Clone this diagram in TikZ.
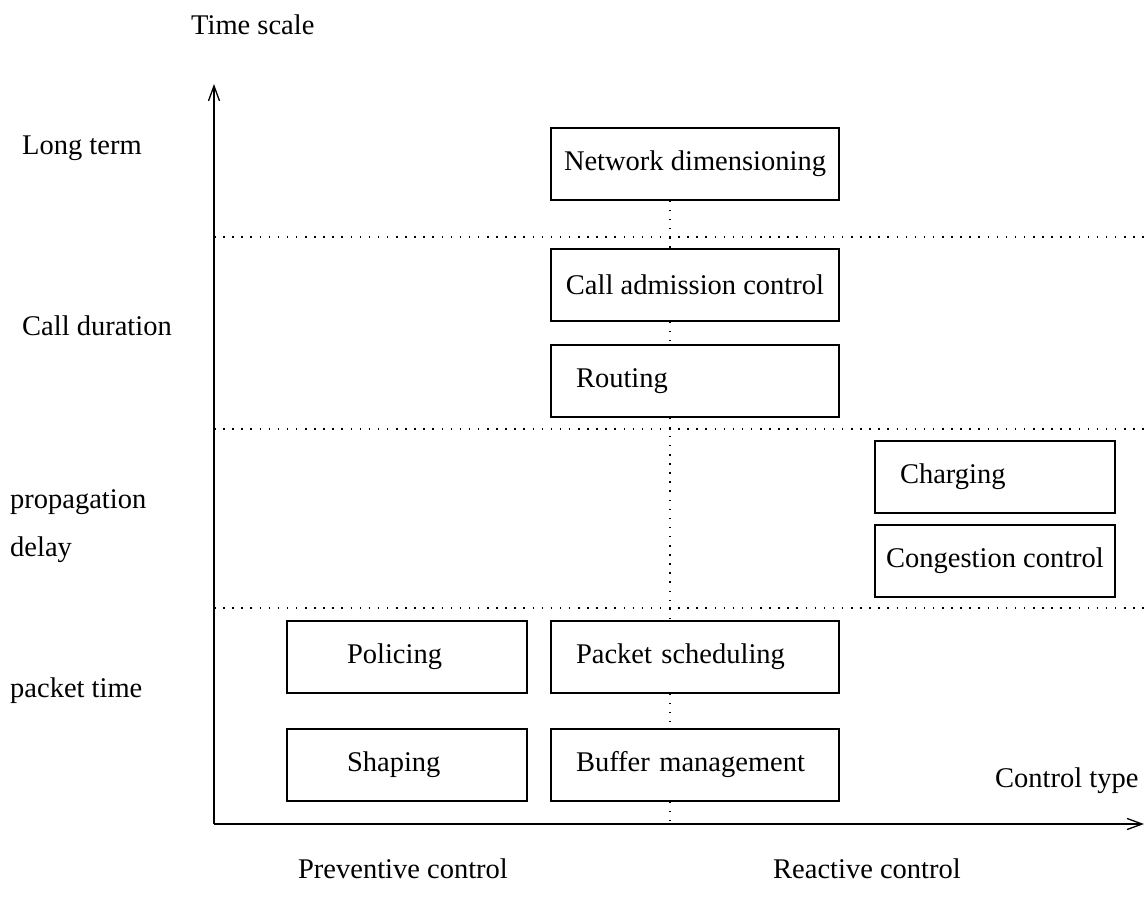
\documentclass[tikz,border=0pt]{standalone}
\usepackage{fontspec}
\setmainfont{Liberation Serif}
\usetikzlibrary{arrows.meta}
\begin{document}
\begin{tikzpicture}[x=1pt,y=-1pt,
  every node/.style={font=\fontsize{28.5}{33}\selectfont},
  lbl/.style={anchor=base west, inner sep=0pt},
  clbl/.style={anchor=base, inner sep=0pt},
  boxc/.style={draw, line width=1.3pt, minimum width=288pt, minimum height=72pt, inner sep=0pt, align=center},
  dotline/.style={line width=1.5pt, dash pattern=on 1.5pt off 7.6pt},
  axis/.style={line width=1.3pt, -{Straight Barb[length=15pt,width=11pt,line width=1.3pt]}}
]
\useasboundingbox (0,0) rectangle (1146,897);

% axes
\coordinate (origin) at (214,824);
\coordinate (ytip) at (214,84);
\coordinate (xtip) at (1144,824);
\coordinate (vx) at (670,0);

% dotted horizontal separators
\coordinate (d1a) at (214,237); \coordinate (d1b) at (1146,237);
\coordinate (d2a) at (214,429); \coordinate (d2b) at (1146,429);
\coordinate (d3a) at (214,608); \coordinate (d3b) at (1146,608);
\draw[dotline] (d1a) -- (d1b);
\draw[dotline] (d2a) -- (d2b);
\draw[dotline] (d3a) -- (d3b);

% boxes (centre column)
\node[boxc] (nd) at (695,164) {Network dimensioning};
\node[boxc] (cac) at (695,285) {Call admission control};
\node[boxc, align=left, text width=238pt] (rt) at (695,381) {Routing};
\node[boxc, align=left, text width=238pt] (ps) at (695,657) {Packet scheduling};
\node[boxc, align=left, text width=238pt] (bm) at (695,765) {Buffer management};
% right column
\node[boxc, minimum width=240pt, align=left, text width=190pt] (ch) at (995,477) {Charging};
\node[boxc, minimum width=240pt] (cc) at (995,561) {Congestion control};
% left column
\node[boxc, minimum width=240pt, align=left, text width=120pt] (po) at (407,657) {Policing};
\node[boxc, minimum width=240pt, align=left, text width=120pt] (sh) at (407,765) {Shaping};

% dotted vertical links
\draw[dotline] (nd.south -| vx) -- (cac.north -| vx);
\draw[dotline] (cac.south -| vx) -- (rt.north -| vx);
\draw[dotline] (rt.south -| vx) -- (ps.north -| vx);
\draw[dotline] (ps.south -| vx) -- (bm.north -| vx);
\draw[dotline] (bm.south -| vx) -- (origin -| vx);

% axes drawn on top
\draw[axis] (origin) -- (ytip);
\draw[axis] (origin) -- (xtip);

% labels
\node[lbl] (ts) at (191,34) {Time scale};
\node[lbl] (lt) at (22,154) {Long term};
\node[lbl] (cd) at (22,335) {Call duration};
\node[lbl] (pd1) at (10,508) {propagation};
\node[lbl] (pd2) at (10,556) {delay};
\node[lbl] (pt) at (10,697) {packet time};
\node[lbl] (ct) at (995,787) {Control type};
\node[clbl] (pc) at (403,878) {Preventive control};
\node[clbl] (rc) at (867,878) {Reactive control};
\end{tikzpicture}
\end{document}
